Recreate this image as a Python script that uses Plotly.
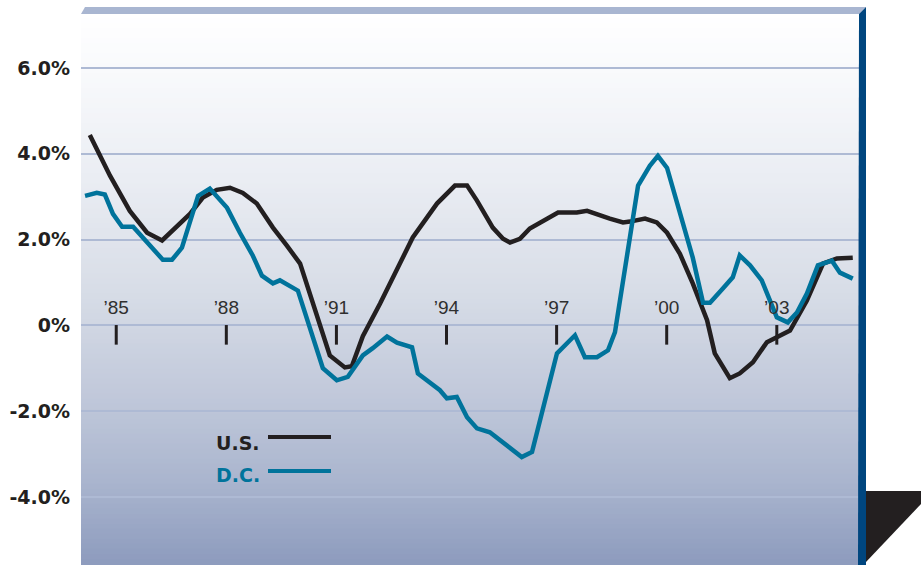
import plotly.graph_objects as go

# ---- data (decimal years, percent) ----
us_years = [1984.28, 1984.83, 1985.37, 1985.84, 1986.25, 1986.74, 1987.01, 1987.36, 1987.74,
            1988.10, 1988.45, 1988.83, 1989.27, 1989.65, 1990.01, 1990.82, 1991.23, 1991.42,
            1991.72, 1992.19, 1992.65, 1993.08, 1993.74, 1994.23, 1994.56, 1994.83, 1995.26,
            1995.54, 1995.73, 1996.00, 1996.27, 1996.63, 1997.04, 1997.55, 1997.83, 1998.45,
            1998.81, 1999.00, 1999.41, 1999.73, 2000.01, 2000.36, 2000.71, 2001.10, 2001.31,
            2001.72, 2001.99, 2002.35, 2002.73, 2003.36, 2003.82, 2004.26, 2004.64, 2005.07]
us_values = [4.44, 3.49, 2.67, 2.16, 1.98, 2.37, 2.60, 2.98, 3.16,
             3.21, 3.09, 2.84, 2.28, 1.86, 1.44, -0.70, -0.98, -0.95,
             -0.25, 0.51, 1.28, 2.05, 2.84, 3.26, 3.26, 2.91, 2.28,
             2.02, 1.93, 2.02, 2.26, 2.44, 2.63, 2.63, 2.67, 2.49,
             2.40, 2.42, 2.49, 2.40, 2.16, 1.67, 0.98, 0.12, -0.65,
             -1.23, -1.12, -0.86, -0.39, -0.12, 0.58, 1.44, 1.56, 1.58]

dc_years = [1984.15, 1984.47, 1984.69, 1984.91, 1985.16, 1985.46, 1986.27, 1986.52, 1986.79,
            1987.23, 1987.55, 1988.02, 1988.37, 1988.72, 1988.97, 1989.27, 1989.46, 1989.95,
            1990.63, 1991.01, 1991.31, 1991.72, 1991.99, 1992.38, 1992.65, 1993.06, 1993.22,
            1993.82, 1994.01, 1994.28, 1994.56, 1994.83, 1995.18, 1995.54, 1996.05, 1996.33,
            1997.01, 1997.50, 1997.77, 1998.10, 1998.40, 1998.59, 1998.92, 1999.22, 1999.54,
            1999.76, 2000.01, 2000.36, 2000.71, 2000.99, 2001.18, 2001.53, 2001.80, 2001.99,
            2002.27, 2002.59, 2002.81, 2003.00, 2003.30, 2003.55, 2003.82, 2004.12, 2004.50,
            2004.72, 2005.07]
dc_values = [3.02, 3.09, 3.05, 2.60, 2.30, 2.30, 1.53, 1.53, 1.81,
             3.02, 3.19, 2.74, 2.16, 1.63, 1.16, 0.98, 1.05, 0.81,
             -1.00, -1.28, -1.20, -0.70, -0.53, -0.26, -0.40, -0.51, -1.12,
             -1.51, -1.70, -1.67, -2.14, -2.40, -2.49, -2.74, -3.07, -2.95,
             -0.65, -0.23, -0.74, -0.74, -0.58, -0.16, 1.58, 3.26, 3.72,
             3.95, 3.67, 2.63, 1.58, 0.53, 0.53, 0.86, 1.12, 1.63,
             1.40, 1.05, 0.58, 0.19, 0.07, 0.30, 0.74, 1.40, 1.51,
             1.23, 1.09]

x_tick_years = [1985, 1988, 1991, 1994, 1997, 2000, 2003]
x_tick_labels = ["\u201985", "\u201988", "\u201991", "\u201994", "\u201997", "\u201900", "\u201903"]
y_tick_values = [6, 4, 2, 0, -2, -4]
y_tick_labels = ["6.0%", "4.0%", "2.0%", "0%", "-2.0%", "-4.0%"]

US_COLOR = "#231f20"
DC_COLOR = "#00739b"

W, H = 921, 565
L, R, T, B = 81, 859, 14, 565  # plot area in pixels
PW, PH = R - L, B - T


def px(xp):
    return (xp - L) / PW


def py(yp):
    return (B - yp) / PH


fig = go.Figure()

fig.add_trace(go.Scatter(x=us_years, y=us_values, mode="lines", name="U.S.",
                         line=dict(color=US_COLOR, width=4.5), showlegend=False))
fig.add_trace(go.Scatter(x=dc_years, y=dc_values, mode="lines", name="D.C.",
                         line=dict(color=DC_COLOR, width=4.5), showlegend=False))

# in-plot year labels and tick marks
fig.add_trace(go.Scatter(x=x_tick_years, y=[0.38] * len(x_tick_years), mode="text",
                         text=x_tick_labels,
                         textfont=dict(family="Liberation Sans, Arial", size=19, color="#2f2f2f"),
                         showlegend=False, hoverinfo="skip"))
fig.add_trace(go.Scatter(x=x_tick_years, y=[-0.22] * len(x_tick_years), mode="markers",
                         marker=dict(symbol="line-ns", size=14,
                                     line=dict(width=3, color="#231f20")),
                         showlegend=False, hoverinfo="skip"))

shapes = []
# gradient background
stops = [(0.0, (255, 255, 255)), (0.1, (249, 250, 252)), (0.3, (234, 237, 243)),
         (0.5, (216, 221, 231)), (0.7, (192, 200, 218)), (0.85, (170, 181, 206)),
         (1.0, (141, 155, 190))]


def col_at(f):
    for (a, ca), (b, cb) in zip(stops[:-1], stops[1:]):
        if a <= f <= b:
            t = (f - a) / (b - a)
            return tuple(round(ca[i] + (cb[i] - ca[i]) * t) for i in range(3))
    return stops[-1][1]


n = 110
for i in range(n):
    f0, f1 = i / n, (i + 1) / n
    c = col_at((f0 + f1) / 2)
    shapes.append(dict(type="rect", xref="paper", yref="paper", x0=0, x1=1,
                       y0=1 - f1, y1=1 - f0 + 0.002, layer="below", line=dict(width=0),
                       fillcolor="rgb(%d,%d,%d)" % c))

# top bar
shapes.append(dict(type="path", xref="paper", yref="paper", layer="above",
                   path="M %f %f L %f %f L %f %f L %f %f Z" % (
                       px(81), py(14), px(85), py(7), px(866), py(7), px(859), py(14)),
                   fillcolor="#a9b6d1", line=dict(width=0)))
# right navy bar
shapes.append(dict(type="path", xref="paper", yref="paper", layer="above",
                   path="M %f %f L %f %f L %f %f L %f %f Z" % (
                       px(859), py(14), px(866), py(7), px(866), py(565), px(858), py(565)),
                   fillcolor="#00467f", line=dict(width=0)))
# black corner shape
shapes.append(dict(type="path", xref="paper", yref="paper", layer="above",
                   path="M %f %f L %f %f L %f %f L %f %f Z" % (
                       px(866), py(491), px(921), py(491), px(921), py(504), px(866), py(562)),
                   fillcolor="#231f20", line=dict(width=0)))
# legend lines
shapes.append(dict(type="line", xref="paper", yref="paper", x0=px(268), x1=px(331),
                   y0=py(437), y1=py(437), line=dict(color=US_COLOR, width=4)))
shapes.append(dict(type="line", xref="paper", yref="paper", x0=px(268), x1=px(331),
                   y0=py(471), y1=py(471), line=dict(color=DC_COLOR, width=4)))

annotations = [
    dict(xref="paper", yref="paper", x=px(214), y=py(443), text="<b>U.S.</b>", showarrow=False,
         xanchor="left", yanchor="middle",
         font=dict(family="DejaVu Sans", size=19, color=US_COLOR)),
    dict(xref="paper", yref="paper", x=px(214), y=py(475), text="<b>D.C.</b>", showarrow=False,
         xanchor="left", yanchor="middle",
         font=dict(family="DejaVu Sans", size=19, color=DC_COLOR)),
]

fig.update_layout(
    width=W, height=H,
    margin=dict(l=L, r=W - R, t=T, b=H - B, pad=0),
    paper_bgcolor="white",
    plot_bgcolor="rgba(0,0,0,0)",
    shapes=shapes,
    annotations=annotations,
    showlegend=False,
    xaxis=dict(range=[1984.04, 2005.24], showgrid=False, zeroline=False, showticklabels=False,
               showline=False, ticks=""),
    yaxis=dict(range=[-5.585, 7.259], tickvals=y_tick_values, ticktext=y_tick_labels,
               showgrid=True, gridcolor="#aebad4", gridwidth=1.5, zeroline=False,
               showline=False, ticks="", ticklabelstandoff=10,
               tickfont=dict(family="DejaVu Sans", size=19, color="#231f20", weight="bold")),
)

fig.write_html("out.html")
